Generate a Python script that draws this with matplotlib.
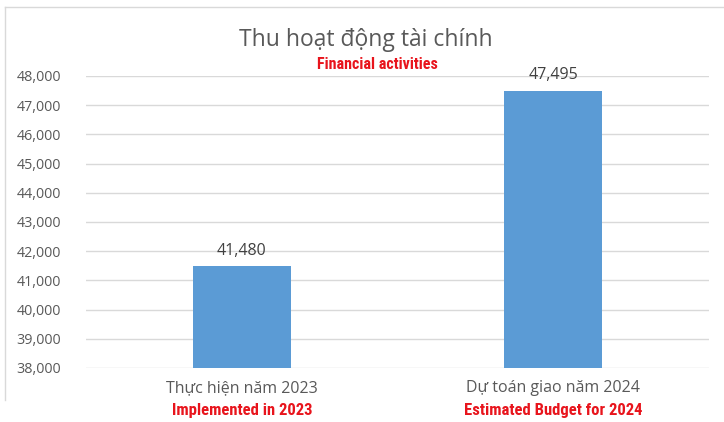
import matplotlib.pyplot as plt
from matplotlib.lines import Line2D
from matplotlib.ticker import FuncFormatter

# du lieu
hang_muc = ['Thực hiện năm 2023', 'Dự toán giao năm 2024']
hang_muc_en = ['Implemented in 2023', 'Estimated Budget for 2024']
gia_tri = [41480, 47495]

fig = plt.figure(figsize=(7.24, 4.22), dpi=100)
ax = fig.add_axes([0.119, 0.128, 0.8605, 0.692])

x = range(len(gia_tri))
bars = ax.bar(x, gia_tri, width=0.315, color='#5b9bd5', zorder=3)
for b, v in zip(bars, gia_tri):
    ax.text(b.get_x() + b.get_width() / 2, v + 250, f'{v:,}', ha='center', va='bottom',
            fontsize=11.5, color='#404040', family=['Open Sans', 'DejaVu Sans'])

ax.set_ylim(38000, 48000)
ax.set_xlim(-0.5, 1.5)
ax.set_yticks(range(38000, 48001, 1000))
ax.yaxis.set_major_formatter(FuncFormatter(lambda v, p: f'{int(v):,}'))
ax.grid(axis='y', color='#d9d9d9', linewidth=1, zorder=0)
for s in ax.spines.values():
    s.set_visible(False)
ax.tick_params(axis='y', length=0, pad=18, labelsize=10.3, labelcolor='#595959')
ax.set_xticks(list(x))
ax.set_xticklabels(hang_muc, fontsize=11.5, color='#595959', family=['Open Sans', 'DejaVu Sans'])
ax.tick_params(axis='x', length=0, pad=9)
for lbl in ax.get_yticklabels():
    lbl.set_family(['Open Sans', 'DejaVu Sans'])

red_font = ['Roboto Condensed', 'DejaVu Sans']

# tieu de
fig.text(0.505, 0.905, 'Thu hoạt động tài chính', ha='center', va='center',
         fontsize=16.5, color='#595959', family=['Open Sans', 'DejaVu Sans'])
fig.text(0.522, 0.848, 'Financial activities', ha='center', va='center',
         fontsize=11.5, color='#e8141c', fontweight='bold', fontstretch='condensed',
         family=red_font)

# nhan tieng Anh
for i, t in enumerate(hang_muc_en):
    xf = (0.119 + 0.8605 * (i + 0.5) / 2)
    fig.text(xf, 0.027, t, ha='center', va='center', fontsize=12, color='#e8141c',
             fontweight='bold', fontstretch='condensed', family=red_font)

# khung bieu do
c = '#d9d9d9'
fig.add_artist(Line2D([5 / 724, 5 / 724], [1 - 7 / 422, 1 - 400 / 422], color=c, lw=1))
fig.add_artist(Line2D([5 / 724, 1], [1 - 7 / 422, 1 - 7 / 422], color=c, lw=1))

fig.savefig('out.png', dpi=100)
